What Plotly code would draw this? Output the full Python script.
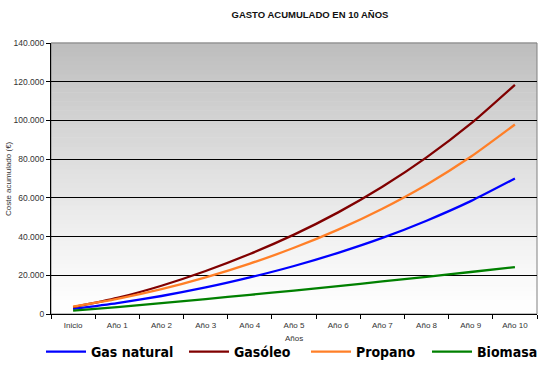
import plotly.graph_objects as go

categories = ["Inicio", "Año 1", "Año 2", "Año 3", "Año 4", "Año 5",
              "Año 6", "Año 7", "Año 8", "Año 9", "Año 10"]

gas_natural = [2600, 5600, 9300, 13700, 18900, 24800, 31600, 39300, 48200, 58300, 70000]
gasoleo = [3500, 8300, 14600, 22200, 31000, 41000, 52500, 65700, 80900, 98300, 118400]
propano = [3800, 7800, 12800, 18900, 26000, 34200, 43600, 54400, 66800, 81200, 97900]
biomasa = [1700, 3600, 5600, 7700, 9900, 12100, 14400, 16800, 19200, 21700, 24200]

y_ticks = [0, 20000, 40000, 60000, 80000, 100000, 120000, 140000]

series = [
    ("Gas natural", gas_natural, "#0000ff", "legend", 41),
    ("Gasóleo", gasoleo, "#800000", "legend2", 184),
    ("Propano", propano, "#ff7f27", "legend3", 306),
    ("Biomasa", biomasa, "#008000", "legend4", 427),
]

W, H = 543, 370

fig = go.Figure()
legend_layouts = {}
for name, vals, col, lg, lx in series:
    fig.add_trace(go.Scatter(
        x=categories, y=vals, name=name, mode="lines", legend=lg,
        line=dict(color=col, width=2.3, shape="spline", smoothing=0.6),
    ))
    legend_layouts[lg] = dict(
        orientation="h", xref="container", yref="container",
        x=lx / W, xanchor="left", y=1 - 352 / H, yanchor="middle",
        font=dict(family="DejaVu Sans Condensed, Liberation Sans Narrow, sans-serif",
                  size=14, color="#000000", weight="bold"),
        itemwidth=40, bgcolor="rgba(0,0,0,0)")

# gradient background of the plot area
shapes = []
n = 60
for i in range(n):
    f0 = i / n
    f1 = (i + 1) / n
    fm = (f0 + f1) / 2
    g = int(round(255 - 66 * (fm ** 1.2)))
    shapes.append(dict(type="rect", xref="x domain", yref="y domain",
                       x0=0, x1=1, y0=f0, y1=f1 + 0.002, layer="below",
                       line=dict(width=0), fillcolor=f"rgb({g},{g},{g})"))
shapes.append(dict(type="rect", xref="x domain", yref="y domain",
                   x0=0, x1=1, y0=0, y1=1, layer="below",
                   line=dict(width=1, color="#808080"), fillcolor="rgba(0,0,0,0)"))

annotations = [
    dict(text="Años", xref="paper", yref="paper", x=(294 - 51) / 486, y=-(338 - 314) / 271,
         xanchor="center", yanchor="middle", showarrow=False,
         font=dict(size=8, color="#333333")),
    dict(text="Coste acumulado (€)", xref="paper", yref="paper", x=-(51 - 8) / 486,
         y=(314 - 179) / 271, xanchor="center", yanchor="middle", showarrow=False,
         textangle=-90, font=dict(size=8, color="#333333")),
]

fig.update_layout(
    width=W, height=H,
    margin=dict(l=51, r=6, t=43, b=56, autoexpand=False),
    paper_bgcolor="white",
    plot_bgcolor="white",
    separators=",.",
    shapes=shapes,
    annotations=annotations,
    font=dict(family="Liberation Sans, Arial, sans-serif", size=8, color="#333333"),
    title=dict(text="<b>GASTO ACUMULADO EN 10 AÑOS</b>", x=310 / W, xanchor="center",
               y=1 - 15 / H, yanchor="middle",
               font=dict(size=9.5, color="#111111")),
    showlegend=True,
    xaxis=dict(
        type="category", showgrid=False, showline=True, linecolor="#000000", linewidth=1,
        ticks="outside", tickson="boundaries", ticklen=4, tickcolor="#000000",
        tickfont=dict(size=8, color="#333333"), automargin=False, ticklabelstandoff=3,
        range=[-0.5, 10.5],
    ),
    yaxis=dict(
        range=[0, 140000], tickvals=y_ticks, tickformat=",.0f",
        showgrid=True, gridcolor="#000000", gridwidth=1,
        showline=True, linecolor="#000000", linewidth=1,
        ticks="outside", ticklen=4, tickcolor="#000000",
        tickfont=dict(size=8.5, color="#333333"), automargin=False,
        zeroline=False,
    ),
    **legend_layouts,
)

fig.write_html("out.html", config={"displayModeBar": False},
               post_script="document.body.style.margin='0';document.body.style.padding='0';")
